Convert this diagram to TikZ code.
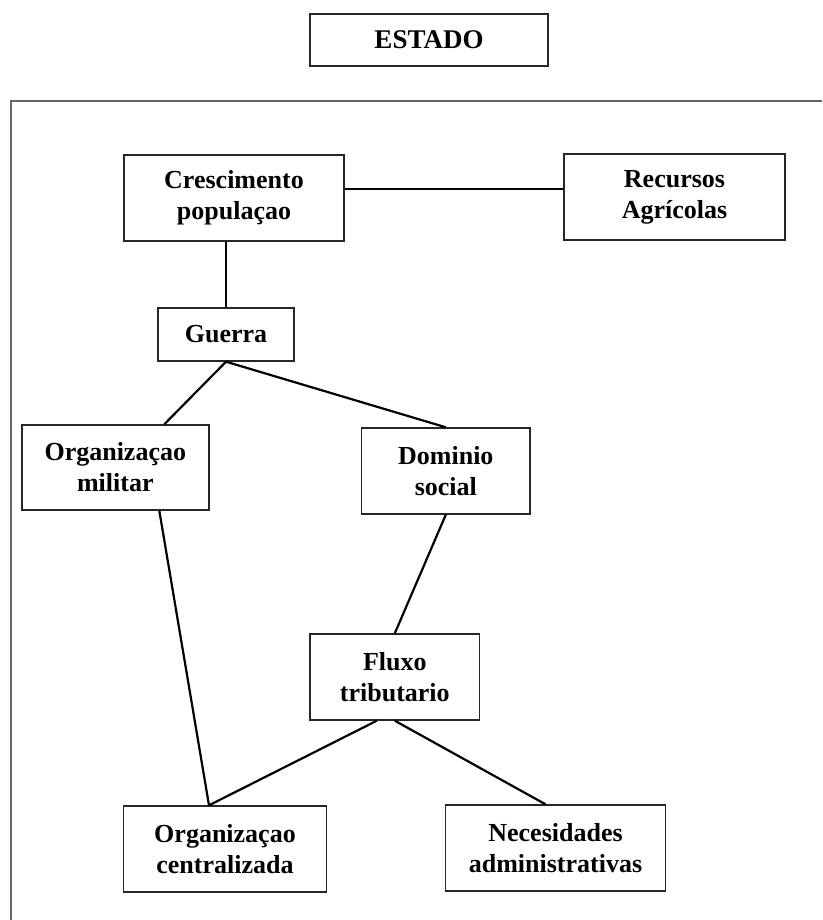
\documentclass[tikz,border=0pt]{standalone}
\usepackage{fontspec}
\setmainfont{Liberation Serif}
\begin{document}
\begin{tikzpicture}[x=1pt,y=-1pt,
  box/.style={draw=black!85, line width=1.4pt, align=center, inner sep=0pt,
    font=\fontsize{26}{31}\selectfont\bfseries},
  link/.style={line width=2.2pt, black},
  frame/.style={line width=1.1pt, black!60}]
\useasboundingbox (0,0) rectangle (822,920);
\draw[frame] (822,101) -- (11,101) -- (11,920);
\node[box, minimum width=238pt, minimum height=52pt, font=\fontsize{27}{31}\selectfont\bfseries] (est) at (429,40) {ESTADO};
\node[box, minimum width=220pt, minimum height=86pt] (cres) at (234,198) {Crescimento\\populaçao};
\node[box, minimum width=221pt, minimum height=86pt] (rec) at (674.5,197) {Recursos\\Agrícolas};
\node[box, minimum width=136pt, minimum height=53pt] (gue) at (226,334.5) {Guerra};
\node[box, minimum width=187pt, minimum height=85pt] (mil) at (115.3,467.5) {Organizaçao\\militar};
\node[box, minimum width=168.5pt, minimum height=86pt] (dom) at (445.8,471) {Dominio\\social};
\node[box, minimum width=169.5pt, minimum height=86pt] (flu) at (394.8,677) {Fluxo\\tributario};
\node[box, minimum width=203pt, minimum height=86pt] (cen) at (225,849) {Organizaçao\\centralizada};
\node[box, minimum width=220pt, minimum height=86pt] (nec) at (555.5,848) {Necesidades\\administrativas};
\draw[link] ([yshift=9pt]cres.east) -- ([yshift=9pt]cres.east -| rec.west);
\draw[link] (gue.north) -- (gue.north |- cres.south);
\draw[link] (gue.south) -- ([xshift=49pt]mil.north);
\draw[link] (gue.south) -- (dom.north);
\draw[link] ([xshift=44pt]mil.south) -- ([xshift=-16pt]cen.north);
\draw[link] (dom.south) -- (flu.north);
\draw[link] ([xshift=-18pt]flu.south) -- ([xshift=-16pt]cen.north);
\draw[link] (flu.south) -- ([xshift=-10pt]nec.north);
\end{tikzpicture}
\end{document}
